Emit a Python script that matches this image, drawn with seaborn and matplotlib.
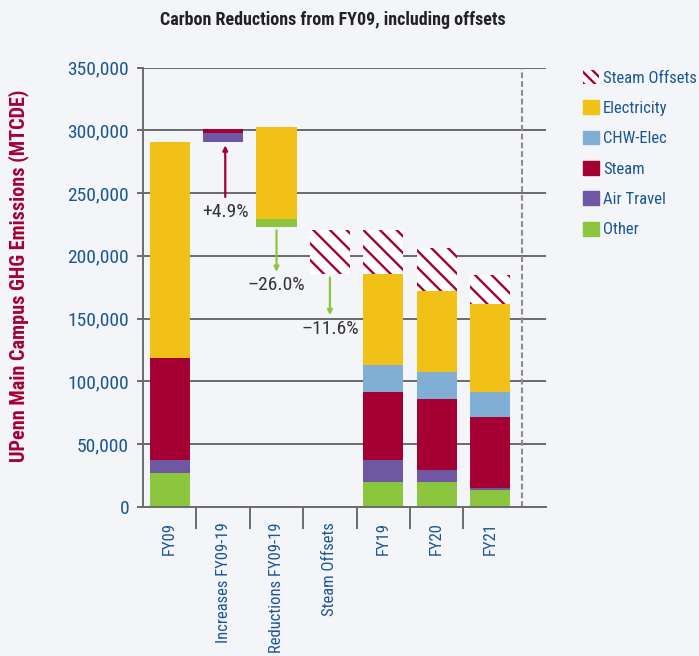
import matplotlib
matplotlib.use("Agg")
import matplotlib.pyplot as plt
import matplotlib.patches as mpatches
from matplotlib.ticker import FuncFormatter, FixedLocator
import numpy as np
import pandas as pd
import seaborn as sns

# ---------------- data ----------------
categories = ["FY09", "Increases FY09-19", "Reductions FY09-19", "Steam Offsets", "FY19", "FY20", "FY21"]
base          = [0, 290600, 223000, 185600, 0, 0, 0]
other         = [27000, 0, 6200, 0, 19900, 19900, 13500]
air_travel    = [10400, 7500, 0, 0, 17500, 9500, 1900]
steam         = [81400, 2600, 0, 0, 54100, 56500, 56200]
chw_elec      = [0, 0, 0, 0, 21500, 21500, 19900]
electricity   = [171500, 0, 73300, 0, 72900, 64400, 70000]
steam_offsets = [0, 0, 0, 34700, 34400, 34800, 23100]

y_ticks = [0, 50000, 100000, 150000, 200000, 250000, 300000, 350000]

change_labels = ["+4.9%", "\u201326.0%", "\u201311.6%"]
change_from   = [246900, 220300, 182700]
change_to     = [288000, 187200, 152700]

# ---------------- style ----------------
sns.set_style("white")
FAM = ["Liberation Sans Narrow", "Roboto Condensed", "DejaVu Sans"]
plt.rcParams["font.family"] = FAM
plt.rcParams["hatch.linewidth"] = 1.7

BG = "#F3F5F9"
GRID = "#6B6B6B"
TXT_BLUE = "#1A5694"
CRIMSON = "#A50034"
colors = {
    "Other": "#8CC63F",
    "Air Travel": "#6F57A3",
    "Steam": CRIMSON,
    "CHW-Elec": "#80AED4",
    "Electricity": "#F2C117",
}

fig = plt.figure(figsize=(6.99, 6.56), dpi=100, facecolor=BG)
ax = fig.add_axes([143 / 699, 1 - 507 / 656, (545.7 - 143) / 699, (507 - 67.5) / 656])
ax.set_facecolor(BG)

layers = [
    ("Other", other),
    ("Air Travel", air_travel),
    ("Steam", steam),
    ("CHW-Elec", chw_elec),
    ("Electricity", electricity),
]

bottom = np.array(base, dtype=float)
for name, vals in layers:
    df = pd.DataFrame({"category": categories, "value": vals})
    sns.barplot(data=df, x="category", y="value", order=categories,
                color=colors[name], saturation=1, width=0.75, errorbar=None,
                bottom=bottom.copy(), linewidth=0, ax=ax)
    bottom = bottom + np.array(vals, dtype=float)

df = pd.DataFrame({"category": categories, "value": steam_offsets})
sns.barplot(data=df, x="category", y="value", order=categories,
            color="white", saturation=1, width=0.75, errorbar=None,
            bottom=bottom.copy(), facecolor="white", edgecolor=CRIMSON,
            hatch="\\\\", linewidth=0, ax=ax)

# ---------------- axes ----------------
ax.set_ylim(0, 350000)
ax.set_xlim(-0.5, 7.04)
ax.set_xlabel("")
ax.set_ylabel("")
ax.yaxis.set_major_locator(FixedLocator(y_ticks))
ax.yaxis.set_major_formatter(FuncFormatter(lambda v, p: f"{int(v):,}"))
ax.yaxis.grid(True, color=GRID, linewidth=1.4)
ax.xaxis.grid(False)
ax.set_axisbelow(True)

for s in ["top", "right"]:
    ax.spines[s].set_visible(False)
for s in ["left", "bottom"]:
    ax.spines[s].set_color(GRID)
    ax.spines[s].set_linewidth(1.4)

ax.tick_params(axis="y", direction="out", length=4.5, width=1.4, color=GRID,
               pad=5.5, labelsize=14, labelcolor=TXT_BLUE, left=True)
ax.set_xticks(range(len(categories)))
ax.set_xticklabels(categories, rotation=90, va="top", ha="center")
ax.set_xticks(np.arange(0.5, 6.0, 1.0), minor=True)
ax.tick_params(axis="x", which="major", length=0, pad=11, labelsize=12,
               labelcolor=TXT_BLUE)
ax.tick_params(axis="x", which="minor", direction="out", length=16, width=1.4,
               color=GRID, bottom=True)

ax.axvline(6.6, color="#8C8C8C", linewidth=1.5, linestyle=(0, (2.8, 1.4)))

# ---------------- change arrows ----------------
arrow_colors = [CRIMSON, "#8CC63F", "#8CC63F"]
arrow_x = [1.04, 2.0, 3.0]
label_pos = [(1.04, 234700), (2.0, 176600), (3.0, 141600)]
for lab, y0, y1, c, x, (lx, ly) in zip(change_labels, change_from, change_to,
                                       arrow_colors, arrow_x, label_pos):
    ax.annotate("", xy=(x, y1), xytext=(x, y0),
                arrowprops=dict(arrowstyle="-|>", color=c, lw=1.6,
                                mutation_scale=7, shrinkA=0, shrinkB=0))
    ax.text(lx, ly, lab, ha="center", va="center", fontsize=14, color="#333333")

# ---------------- legend ----------------
handles = [
    mpatches.Patch(facecolor="white", edgecolor=CRIMSON, hatch="\\\\\\", linewidth=0, label="Steam Offsets"),
    mpatches.Patch(color=colors["Electricity"], label="Electricity"),
    mpatches.Patch(color=colors["CHW-Elec"], label="CHW-Elec"),
    mpatches.Patch(color=colors["Steam"], label="Steam"),
    mpatches.Patch(color=colors["Air Travel"], label="Air Travel"),
    mpatches.Patch(color=colors["Other"], label="Other"),
]
leg = fig.legend(handles=handles, loc="upper left",
                 bbox_to_anchor=(583 / 699, 1 - 70 / 656),
                 frameon=False, fontsize=12, borderpad=0, borderaxespad=0,
                 handlelength=0.93, handleheight=0.9, labelspacing=0.88,
                 handletextpad=0.28)
for t in leg.get_texts():
    t.set_color(TXT_BLUE)

# ---------------- titles ----------------
fig.text(333 / 699, 1 - 20 / 656, "Carbon Reductions from FY09, including offsets",
         ha="center", va="center", fontsize=13, fontweight="bold", color="#222222")
fig.text(19 / 699, 1 - 276 / 656, "UPenn Main Campus GHG Emissions (MTCDE)",
         rotation=90, ha="center", va="center", fontsize=14.6, fontweight="bold",
         color=CRIMSON)

fig.savefig("out.png", dpi=100, facecolor=BG)
